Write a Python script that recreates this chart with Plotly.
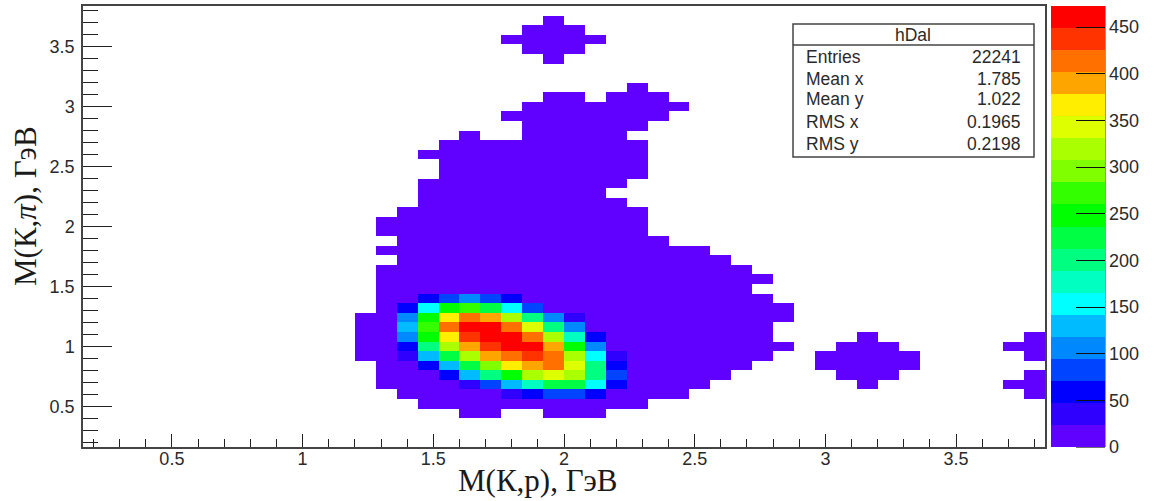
import plotly.graph_objects as go

# Histogram binning (46 x 46 bins)
N_BINS = 46
X_FIRST, Y_FIRST, BIN_W = 0.2, 0.2, 0.08
X_RANGE = [0.16, 3.84]
Y_RANGE = [0.16, 3.84]

# Occupied bins in low-count level: row (from the top) -> column spans
OCCUPIED_SPANS = {
    1: [(22, 22)], 2: [(21, 23)], 3: [(20, 24)], 4: [(21, 23)], 5: [(22, 22)],
    8: [(26, 26)], 9: [(22, 23), (25, 27)], 10: [(21, 28)], 11: [(20, 27)],
    12: [(21, 26)], 13: [(18, 18), (21, 25)], 14: [(17, 26)], 15: [(16, 26)],
    16: [(17, 26)], 17: [(17, 26)], 18: [(16, 25)], 19: [(16, 24)], 20: [(16, 25)],
    21: [(15, 26)], 22: [(14, 26)], 23: [(14, 26)], 24: [(15, 27)], 25: [(14, 29)],
    26: [(15, 30)], 27: [(14, 31)], 28: [(14, 32)], 29: [(14, 31)], 30: [(14, 32)],
    31: [(14, 33)], 32: [(13, 33)], 33: [(13, 32)], 34: [(13, 32), (37, 37), (45, 45)],
    35: [(13, 33), (36, 38), (44, 45)], 36: [(13, 32), (35, 39), (45, 45)],
    37: [(14, 31), (35, 39)], 38: [(14, 30), (36, 38), (45, 45)],
    39: [(14, 29), (37, 37), (44, 45)], 40: [(15, 28), (45, 45)],
    41: [(16, 26)], 42: [(18, 19), (22, 24)],
}
LOW_COUNT = 10

# Central peak: row (from the top) -> (first column, counts)
PEAK_ROWS = {
    30: (16, [59, 83, 106, 83, 59]),
    31: (15, [59, 153, 248, 271, 224, 153, 83]),
    32: (15, [106, 248, 366, 413, 389, 319, 200, 106, 35]),
    33: (15, [130, 271, 413, 460, 460, 413, 342, 200, 106]),
    34: (15, [106, 248, 366, 437, 460, 460, 413, 319, 177, 59]),
    35: (15, [59, 200, 319, 389, 437, 460, 460, 389, 248, 106]),
    36: (15, [35, 130, 224, 319, 389, 413, 437, 413, 319, 153, 35]),
    37: (16, [59, 130, 224, 295, 366, 389, 413, 342, 200, 59]),
    38: (17, [59, 130, 200, 248, 319, 342, 319, 200, 83]),
    39: (18, [35, 83, 130, 177, 224, 224, 153, 59]),
    40: (20, [35, 59, 83, 83, 59]),
}

# Colour palette: 20 levels, bottom to top
LEVEL_COLORS = [
    "#6000ff", "#3000ff", "#0000ff", "#0044ff", "#0088ff", "#00bbff", "#00ffff",
    "#00ffc0", "#00ff80", "#00ff44", "#00ff00", "#33ff00", "#80ff00", "#aaff00",
    "#ddff00", "#ffee00", "#ffa500", "#ff7000", "#ff3300", "#ff0000",
]
Z_MAX = 472.5
CBAR_TICKS = [0, 50, 100, 150, 200, 250, 300, 350, 400, 450]

X_TICKS = [0.5, 1, 1.5, 2, 2.5, 3, 3.5]
X_TICK_TEXT = ["0.5", "1", "1.5", "2", "2.5", "3", "3.5"]
Y_TICKS = [0.5, 1, 1.5, 2, 2.5, 3, 3.5]
Y_TICK_TEXT = ["0.5", "1", "1.5", "2", "2.5", "3", "3.5"]

X_TITLE = "M(К,p), ГэВ"
Y_TITLE = "M(К,<i>π</i>), ГэВ"

STATS_NAME = "hDal"
STATS_LABELS = ["Entries", "Mean x", "Mean y", "RMS x", "RMS y"]
STATS_VALUES = ["22241", "1.785", "1.022", "0.1965", "0.2198"]

# ---------------------------------------------------------------------------
z = [[None] * N_BINS for _ in range(N_BINS)]
for row, spans in OCCUPIED_SPANS.items():
    for a, b in spans:
        for c in range(a, b + 1):
            z[N_BINS - 1 - row][c] = LOW_COUNT
for row, (first, vals) in PEAK_ROWS.items():
    for k, v in enumerate(vals):
        z[N_BINS - 1 - row][first + k] = v

n = len(LEVEL_COLORS)
colorscale = []
for i, col in enumerate(LEVEL_COLORS):
    colorscale.append([i / n, col])
    colorscale.append([(i + 1) / n, col])

W, H = 1155, 501
L, R, T, B = 83, 1045, 6, 447
TEXT = "#2a2a2a"
FRAME = "#444444"


def px(x):
    return (x - L) / (R - L)


def py(y):
    return (B - y) / (B - T)


fig = go.Figure(
    go.Heatmap(
        z=z,
        x0=X_FIRST,
        dx=BIN_W,
        y0=Y_FIRST,
        dy=BIN_W,
        zmin=0,
        zmax=Z_MAX,
        colorscale=colorscale,
        hoverongaps=False,
        colorbar=dict(
            thicknessmode="pixels",
            thickness=54,
            lenmode="fraction",
            len=1,
            x=px(1051),
            xanchor="left",
            xref="paper",
            y=0,
            yanchor="bottom",
            yref="paper",
            xpad=0,
            ypad=0,
            outlinewidth=0,
            borderwidth=0,
            ticks="inside",
            ticklen=29,
            tickwidth=1.2,
            tickcolor="#111111",
            tickvals=CBAR_TICKS,
            ticktext=[str(t) for t in CBAR_TICKS],
            tickfont=dict(family="Liberation Sans", size=18, color=TEXT),
        ),
    )
)

shapes = [
    dict(type="line", xref="paper", yref="paper", x0=px(1105), x1=px(1105), y0=0, y1=1,
         line=dict(color="#333333", width=1)),
    dict(type="line", xref="paper", yref="paper", x0=px(1076), x1=px(1105), y0=0, y1=0,
         line=dict(color="#111111", width=1.2)),
    dict(type="rect", xref="paper", yref="paper", x0=px(793), x1=px(1034), y0=py(157), y1=py(24),
         fillcolor="white", line=dict(color=FRAME, width=1.5), layer="above"),
    dict(type="line", xref="paper", yref="paper", x0=px(793), x1=px(1034), y0=py(45), y1=py(45),
         line=dict(color=FRAME, width=1.5), layer="above"),
]

annotations = [
    dict(text=X_TITLE, xref="paper", yref="paper", x=px(538), y=py(480), showarrow=False,
         xanchor="center", yanchor="middle",
         font=dict(family="Liberation Serif", size=31, color="#1a1a1a")),
    dict(text=Y_TITLE, xref="paper", yref="paper", x=px(25), y=py(206), showarrow=False,
         textangle=-90, xanchor="center", yanchor="middle",
         font=dict(family="Liberation Serif", size=31, color="#1a1a1a")),
    dict(text=STATS_NAME, xref="paper", yref="paper", x=px(913), y=py(35), showarrow=False,
         xanchor="center", yanchor="middle",
         font=dict(family="Liberation Sans", size=17.5, color=TEXT)),
]
ROW_Y = [57, 79, 99, 122, 144]
for lab, val, yy in zip(STATS_LABELS, STATS_VALUES, ROW_Y):
    annotations.append(dict(text=lab, xref="paper", yref="paper", x=px(803.5), y=py(yy), showarrow=False,
                            xanchor="left", yanchor="middle",
                            font=dict(family="Liberation Sans", size=17.5, color=TEXT)))
    annotations.append(dict(text=val, xref="paper", yref="paper", x=px(1022.5), y=py(yy), showarrow=False,
                            xanchor="right", yanchor="middle",
                            font=dict(family="Liberation Sans", size=17.5, color=TEXT)))

axis_common = dict(
    showgrid=False,
    zeroline=False,
    showline=True,
    linecolor=FRAME,
    linewidth=1.5,
    mirror=True,
    ticks="inside",
    tickcolor="#222222",
    tickwidth=1,
    tickfont=dict(family="Liberation Sans", size=18, color=TEXT),
)

fig.update_layout(
    width=W,
    height=H,
    margin=dict(l=L, r=W - R, t=T, b=H - B, pad=0, autoexpand=False),
    paper_bgcolor="white",
    plot_bgcolor="white",
    xaxis=dict(range=X_RANGE, tickvals=X_TICKS, ticktext=X_TICK_TEXT, ticklen=13,
               ticklabelstandoff=-5,
               minor=dict(dtick=0.1, tick0=0, ticks="inside", ticklen=8, tickcolor="#222222", tickwidth=1),
               **axis_common),
    yaxis=dict(range=Y_RANGE, tickvals=Y_TICKS, ticktext=Y_TICK_TEXT, ticklen=29,
               ticklabelstandoff=3,
               minor=dict(dtick=0.1, tick0=0, ticks="inside", ticklen=15, tickcolor="#222222", tickwidth=1),
               **axis_common),
    shapes=shapes,
    annotations=annotations,
)

fig.write_html(
    "out.html",
    config={"displayModeBar": False},
    post_script="document.body.style.margin='0';",
)
